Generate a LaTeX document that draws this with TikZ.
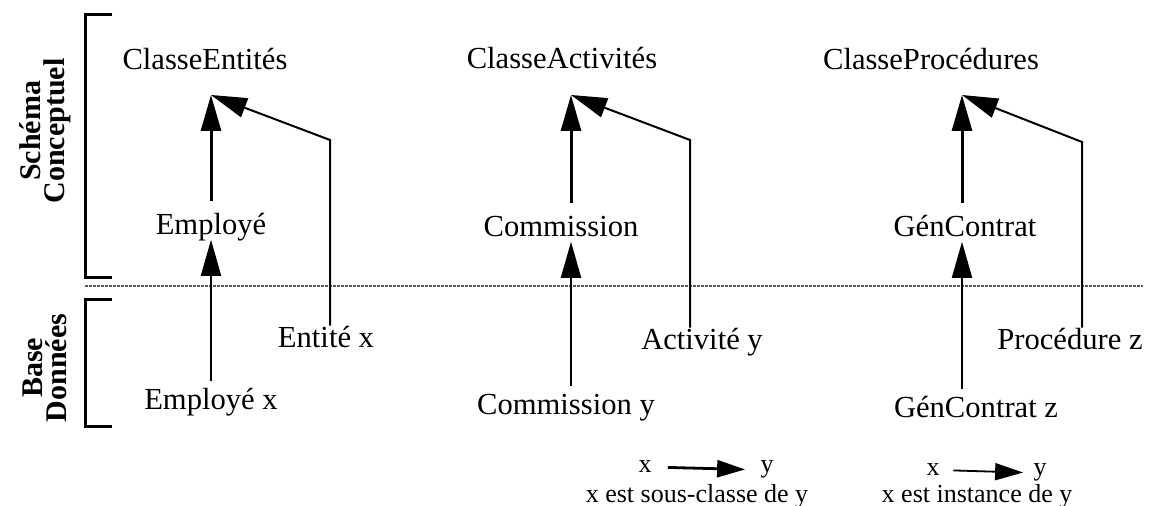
\documentclass[tikz,border=0pt]{standalone}
\usepackage{fontspec}
\setmainfont{Liberation Serif}
\usetikzlibrary{arrows.meta}

\begin{document}
\begin{tikzpicture}[x=0.5pt,y=-0.5pt,
    lbl/.style={inner sep=0pt,text height=0.7em,text depth=0.22em,anchor=base,font=\fontsize{15.3}{18}\selectfont},
    leg/.style={inner sep=0pt,anchor=base,font=\fontsize{13}{15}\selectfont},
    side/.style={inner sep=0pt,rotate=90,align=center,font=\fontsize{15}{12}\selectfont\bfseries},
    sub/.style={line width=1.5pt,-{Triangle[length=18pt,width=10pt]}},
    inst/.style={line width=1pt,-{Triangle[length=18pt,width=10pt]}},
    brk/.style={line width=1.5pt},
    sep/.style={line width=1.2pt,black!65,dash pattern=on 1.5pt off 0.5pt}]
      \useasboundingbox (0,0) rectangle (1155,506);
      \draw[brk] (112,15) -- (85,15) -- (85,278) -- (112,278);
      \draw[brk] (112,300) -- (85,300) -- (85,427) -- (112,427);
      \draw[sep] (85,286) -- (1143,286);
      \node[side] (sc) at (45,131) {Schéma\\Conceptuel};
      \node[side] (bd) at (45,368) {Base\\Données};

      \node[lbl] (ce) at (205,70) {ClasseEntités};
      \node[lbl] (ca) at (562,69) {ClasseActivités};
      \node[lbl] (cp) at (931,70) {ClasseProcédures};
      \node[lbl] (emp) at (211,235) {Employé};
      \node[lbl] (com) at (561,237) {Commission};
      \node[lbl] (gen) at (965,237) {GénContrat};
      \node[lbl] (entx) at (326,348) {Entité x};
      \node[lbl] (acty) at (702,350) {Activité y};
      \node[lbl] (proz) at (1070,350) {Procédure z};
      \node[lbl] (empx) at (211,410) {Employé x};
      \node[lbl] (comy) at (566,415) {Commission y};
      \node[lbl] (genz) at (976,418) {GénContrat z};

      \coordinate (t1) at (211,95);
      \coordinate (t2) at (571,95);
      \coordinate (t3) at (962,95);
      \coordinate (k1) at (330,140);
      \coordinate (k2) at (690,140);
      \coordinate (k3) at (1082,142);

      \draw[inst,shorten <=7.5pt] (empx.north -| t1) -- (emp.south -| t1);
      \draw[sub,shorten <=10pt] (emp.north -| t1) -- (t1);
      \draw[inst,shorten <=4pt] (entx.north -| k1) -- (k1) -- (t1);
      \draw[inst,shorten <=7.5pt] (comy.north -| t2) -- (com.south -| t2);
      \draw[sub,shorten <=10pt] (com.north -| t2) -- (t2);
      \draw[inst,shorten <=4pt] (acty.north -| k2) -- (k2) -- (t2);
      \draw[inst,shorten <=7.5pt] (genz.north -| t3) -- (gen.south -| t3);
      \draw[sub,shorten <=10pt] (gen.north -| t3) -- (t3);
      \draw[inst,shorten <=4pt] (proz.north -| k3) -- (k3) -- (t3);

      \node[leg] (lx1) at (645,473) {x};
      \node[leg] (ly1) at (767,473) {y};
      \node[leg] (lt1) at (697,503) {x est sous-classe de y};
      \draw[line width=1.4pt,-{Triangle[length=14pt,width=8.5pt]},shorten <=8pt,shorten >=7.5pt] (lx1.east) -- (ly1.west);
      \node[leg] (lx2) at (933,476) {x};
      \node[leg] (ly2) at (1040,476) {y};
      \node[leg] (lt2) at (977,503) {x est instance de y};
      \draw[line width=0.9pt,-{Triangle[length=14pt,width=8.5pt]},shorten <=6.7pt,shorten >=5pt] (lx2.east) -- (ly2.west);
    \end{tikzpicture}
\end{document}
